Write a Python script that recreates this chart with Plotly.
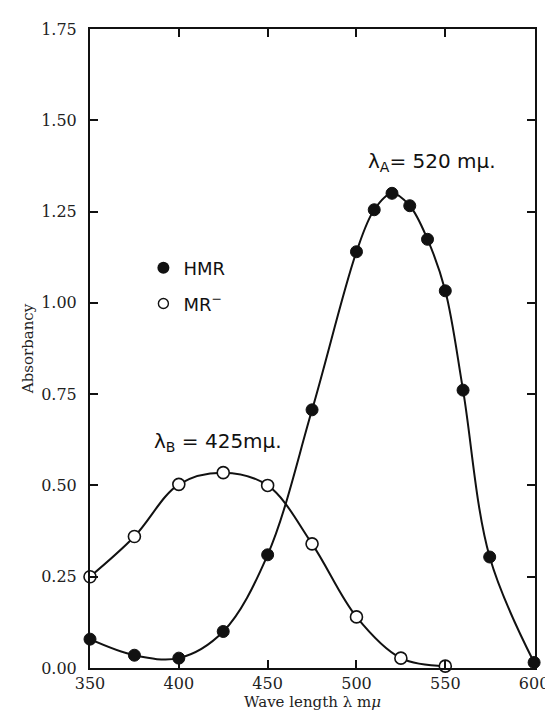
import plotly.graph_objects as go

# Wave lengths (m\u03bc) and absorbancy values
hmr_wavelength = [350, 375, 400, 425, 450, 475, 500, 510, 520, 530, 540, 550, 560, 575, 600]
hmr_absorbancy = [0.079, 0.035, 0.027, 0.10, 0.31, 0.707, 1.14, 1.255, 1.30, 1.266, 1.174, 1.033, 0.761, 0.304, 0.015]

mr_wavelength = [350, 375, 400, 425, 450, 475, 500, 525, 550]
mr_absorbancy = [0.25, 0.36, 0.503, 0.535, 0.50, 0.34, 0.14, 0.027, 0.005]

x_ticks = [350, 400, 450, 500, 550, 600]
y_ticks = [0.00, 0.25, 0.50, 0.75, 1.00, 1.25, 1.50, 1.75]

fig = go.Figure()

fig.add_trace(go.Scatter(
    x=mr_wavelength, y=mr_absorbancy, mode="lines+markers",
    line=dict(color="#111111", width=2, shape="spline", smoothing=1.0),
    marker=dict(symbol="circle", size=12, color="white", line=dict(color="#111111", width=1.6)),
    cliponaxis=False, showlegend=False))

fig.add_trace(go.Scatter(
    x=hmr_wavelength, y=hmr_absorbancy, mode="lines+markers",
    line=dict(color="#111111", width=2, shape="spline", smoothing=1.0),
    marker=dict(symbol="circle", size=12, color="#111111", line=dict(color="#111111", width=1)),
    cliponaxis=False, showlegend=False))

# legend entries (markers only)
fig.add_trace(go.Scatter(x=[None], y=[None], mode="markers", name="HMR",
                         marker=dict(symbol="circle", size=12, color="#111111"),
                         legend="legend"))
fig.add_trace(go.Scatter(x=[None], y=[None], mode="markers", name="MR<sup>\u2212</sup>",
                         marker=dict(symbol="circle", size=10, color="white",
                                     line=dict(color="#111111", width=1.4)),
                         legend="legend2"))

axis_common = dict(
    showline=True, linecolor="#111111", linewidth=2, mirror="ticks",
    ticks="inside", ticklen=8, tickwidth=1.5, tickcolor="#111111",
    showgrid=False, zeroline=False,
    tickfont=dict(family="DejaVu Serif", size=16, color="#222222"),
)

fig.update_xaxes(range=[350, 600.5], tickvals=x_ticks, ticktext=[str(v) for v in x_ticks],
                 ticklabeloverflow="allow",
                 title=dict(text="Wave length \u03bb m<i>\u03bc</i>", standoff=2,
                            font=dict(family="DejaVu Serif", size=15, color="#222222")),
                 **axis_common)
fig.update_yaxes(range=[0, 1.75], tickvals=y_ticks, ticktext=[f"{v:.2f}" for v in y_ticks],
                 ticklabelstandoff=8,
                 title=dict(text="Absorbancy", standoff=4,
                            font=dict(family="DejaVu Serif", size=15, color="#222222")),
                 **axis_common)

fig.add_annotation(x=505.5, y=1.386, xref="x", yref="y", xanchor="left", yanchor="middle",
                   text="\u03bb<sub>A</sub>= 520 m\u03bc.", showarrow=False,
                   font=dict(family="DejaVu Sans", size=20, color="#111111"))
fig.add_annotation(x=385, y=0.62, xref="x", yref="y", xanchor="left", yanchor="middle",
                   text="\u03bb<sub>B</sub> = 425m\u03bc.", showarrow=False,
                   font=dict(family="DejaVu Sans", size=20, color="#111111"))

legend_font = dict(family="DejaVu Sans", size=18, color="#111111")
fig.update_layout(
    width=553, height=711,
    margin=dict(l=82, r=16, t=16, b=51),
    paper_bgcolor="white", plot_bgcolor="white",
    legend=dict(x=0.12, y=0.626, xanchor="left", yanchor="middle", font=legend_font,
                bgcolor="rgba(0,0,0,0)"),
    legend2=dict(x=0.12, y=0.570, xanchor="left", yanchor="middle", font=legend_font,
                 bgcolor="rgba(0,0,0,0)"),
)

fig.write_html("out.html")
